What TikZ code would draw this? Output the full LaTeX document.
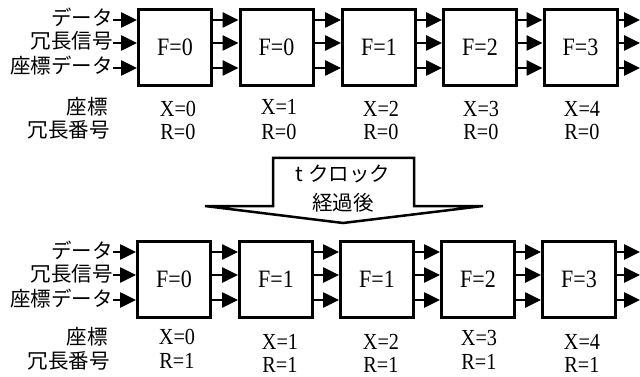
\documentclass[tikz,border=0pt]{standalone}
\usepackage{fontspec}
\setmainfont{Liberation Serif}
\newfontfamily\lat[FakeStretch=0.88]{Liberation Serif}
\newfontfamily\jp{Noto Sans CJK JP}
\usetikzlibrary{arrows.meta}
\begin{document}
\begin{tikzpicture}[x=1pt,y=-1pt,
  blk/.style={draw,line width=3pt,fill=white,minimum width=73pt,minimum height=76pt,inner sep=0pt,font=\lat\fontsize{25}{26}\selectfont},
  arr/.style={line width=2.6pt,-{Triangle[length=16pt,width=15pt]}},
  jl/.style={inner sep=0pt,anchor=east,font=\jp\fontsize{20.5}{21}\selectfont,text height=14pt,text depth=2pt},
  num/.style={inner sep=0pt,font=\lat\fontsize{23}{24}\selectfont,text height=15pt,text depth=0pt},
  bigarrow/.style={draw,line width=2.5pt,fill=white}]
\useasboundingbox (0,0) rectangle (640,377);
% top row boxes
\node[blk] (a1) at (175,47.5) {F=0};
\node[blk] (a2) at (276.5,47.5) {F=0};
\node[blk] (a3) at (379,47.5) {F=1};
\node[blk] (a4) at (480,47.5) {F=2};
\node[blk] (a5) at (580.5,47.5) {F=3};
% bottom row boxes
\node[blk] (b1) at (174,279.5) {F=0};
\node[blk] (b2) at (276,279.5) {F=1};
\node[blk] (b3) at (377,279.5) {F=1};
\node[blk] (b4) at (478,279.5) {F=2};
\node[blk] (b5) at (579,279.5) {F=3};
% input labels and connectors
\foreach \r/\yy in {a/0,b/232}{
  \node[jl] (\r d) at (113,20+\yy) {データ};
  \node[jl] (\r s) at (113,43+\yy) {冗長信号};
  \node[jl] (\r c) at (113,68+\yy) {座標データ};
  \draw[arr] (\r d.east) -- ([yshift=-12pt]\r1.north west);
  \draw[arr] (\r s.east) -- ([yshift=-35pt]\r1.north west);
  \draw[arr] (\r c.east) -- ([yshift=-60pt]\r1.north west);
  \foreach \i/\j in {1/2,2/3,3/4,4/5}{
    \foreach \s in {12,35,60}{
      \draw[arr] ([yshift=-\s pt]\r\i.north east) -- ([yshift=-\s pt]\r\j.north west);
    }
  }
  \coordinate (\r e1) at (640,20+\yy);
  \coordinate (\r e2) at (640,43+\yy);
  \coordinate (\r e3) at (640,68+\yy);
  \draw[arr] ([yshift=-12pt]\r5.north east) -- (\r e1);
  \draw[arr] ([yshift=-35pt]\r5.north east) -- (\r e2);
  \draw[arr] ([yshift=-60pt]\r5.north east) -- (\r e3);
}
% coordinate labels top
\node[jl] (ka) at (108,109) {座標};
\node[jl] (ra) at (110,132) {冗長番号};
\node[num] (xa0) at (178,109) {X=0};
\node[num] (xa1) at (279,107) {X=1};
\node[num] (xa2) at (381,109) {X=2};
\node[num] (xa3) at (481,109) {X=3};
\node[num] (xa4) at (582,109) {X=4};
\node[num] (ra0) at (178,132) {R=0};
\node[num] (ra1) at (279,132) {R=0};
\node[num] (ra2) at (381,132) {R=0};
\node[num] (ra3) at (481,132) {R=0};
\node[num] (ra4) at (582,132) {R=0};
% coordinate labels bottom
\node[jl] (kb) at (108,338) {座標};
\node[jl] (rb) at (110,362) {冗長番号};
\node[num] (xb0) at (177,337) {X=0};
\node[num] (xb1) at (280,342) {X=1};
\node[num] (xb2) at (381,342) {X=2};
\node[num] (xb3) at (479,338) {X=3};
\node[num] (xb4) at (582,342) {X=4};
\node[num] (rb0) at (177,361) {R=1};
\node[num] (rb1) at (280,365) {R=1};
\node[num] (rb2) at (381,365) {R=1};
\node[num] (rb3) at (479,362) {R=1};
\node[num] (rb4) at (582,365) {R=1};
% big arrow
\draw[bigarrow] (273,158) -- (414,158) -- (414,206) -- (483,206) -- (343,223) -- (205,206) -- (273,206) -- cycle;
\node[inner sep=0pt,font=\jp\fontsize{20.5}{21}\selectfont] (t1) at (343,174) {t クロック};
\node[inner sep=0pt,font=\jp\fontsize{20.5}{21}\selectfont] (t2) at (343,203) {経過後};
\end{tikzpicture}
\end{document}
